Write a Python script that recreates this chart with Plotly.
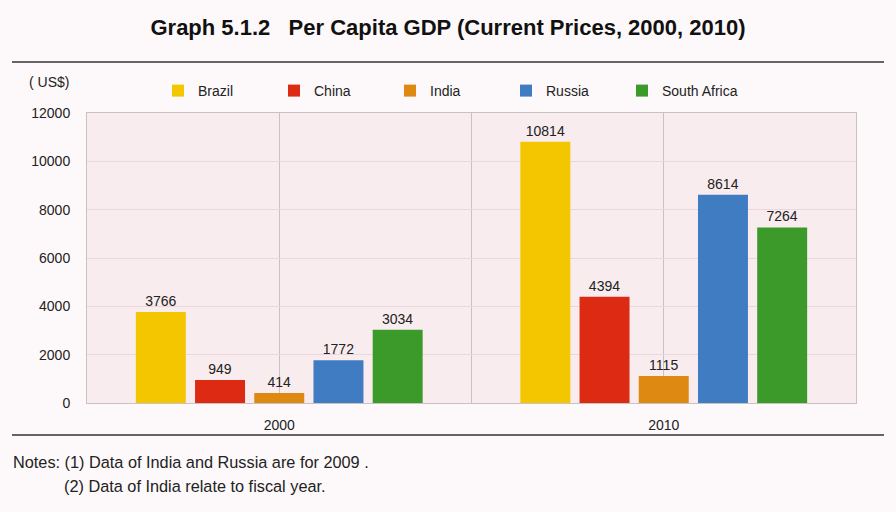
import plotly.graph_objects as go

# data
years = ['2000', '2010']
countries = ['Brazil', 'China', 'India', 'Russia', 'South Africa']
brazil = [3766, 10814]
china = [949, 4394]
india = [414, 1115]
russia = [1772, 8614]
south_africa = [3034, 7264]
values = [brazil, china, india, russia, south_africa]

colors = ['#f4c600', '#dd2a12', '#de8a12', '#3f7cc2', '#3c9a2a']
x_pos = [0, 1]

W, H = 896, 512
# plot area in pixels
L, T, R, B = 87, 113, 40, 109
PW, PH = W - L - R, H - T - B


def px_x(px):
    return (px - L) / PW


def px_y(py):
    return (H - B - py) / PH


fig = go.Figure()

for name, vals, col in zip(countries, values, colors):
    fig.add_trace(go.Bar(
        x=x_pos,
        y=vals,
        name=name,
        marker=dict(color=col, line=dict(width=0)),
        text=vals,
        texttemplate='%{y:d}',
        textposition='outside',
        textfont=dict(size=14, color='#222222', family='Liberation Sans, Arial'),
        cliponaxis=False,
    ))

fig.update_layout(
    width=W,
    height=H,
    barmode='group',
    bargap=0.23,
    bargroupgap=0.156,
    paper_bgcolor='#fdf9fa',
    plot_bgcolor='#f8ecef',
    margin=dict(l=L, r=R, t=T, b=B, autoexpand=False),
    font=dict(family='Liberation Sans, Arial', size=14, color='#222222'),
    title=dict(
        text='<b>Graph 5.1.2   Per Capita GDP (Current Prices, 2000, 2010)</b>',
        x=0.5, xanchor='center',
        y=1 - 27 / H, yanchor='middle',
        font=dict(size=22, color='#111111', family='Liberation Sans, Arial'),
    ),
    legend=dict(
        orientation='h',
        xref='container', yref='container',
        x=158 / W, xanchor='left',
        y=1 - 91 / H, yanchor='middle',
        entrywidth=71, entrywidthmode='pixels',
        itemwidth=30,
        bgcolor='rgba(0,0,0,0)',
        font=dict(size=14, color='#222222'),
        traceorder='normal',
    ),
    showlegend=True,
)

fig.update_xaxes(
    range=[-0.5, 1.5],
    tickvals=[-0.5, 0, 0.5, 1, 1.5],
    ticktext=['', '2000', '', '2010', ''],
    ticks='',
    showgrid=True,
    gridcolor='#c8c2c4',
    gridwidth=1,
    showline=True,
    linecolor='#c8c2c4',
    mirror=True,
    zeroline=False,
    ticklabelstandoff=9,
    tickfont=dict(size=14),
)

fig.update_yaxes(
    range=[0, 12000],
    dtick=2000,
    tickformat='d',
    showgrid=True,
    gridcolor='#ead6db',
    zeroline=False,
    showline=True,
    linecolor='#c8c2c4',
    mirror=True,
    ticks='',
    ticklabelstandoff=13,
    tickfont=dict(size=14),
)

# rules above and below the chart
for py in (62, 435):
    fig.add_shape(type='line', xref='paper', yref='paper',
                  x0=px_x(12), x1=px_x(884), y0=px_y(py), y1=px_y(py),
                  line=dict(color='#333333', width=1.5))

# unit label
fig.add_annotation(text='( US$)', xref='paper', yref='paper',
                   x=px_x(27), y=px_y(82), xanchor='left', yanchor='middle',
                   showarrow=False, font=dict(size=14, color='#222222'))

# notes
fig.add_annotation(text='Notes: (1) Data of India and Russia are for 2009 .',
                   xref='paper', yref='paper',
                   x=px_x(11), y=px_y(462), xanchor='left', yanchor='middle',
                   showarrow=False, font=dict(size=16.3, color='#222222'))
fig.add_annotation(text='(2) Data of India relate to fiscal year.',
                   xref='paper', yref='paper',
                   x=px_x(62), y=px_y(486), xanchor='left', yanchor='middle',
                   showarrow=False, font=dict(size=16.3, color='#222222'))

# drop the default page margin so the figure sits at the window origin
fig.write_html('out.html', config={'displayModeBar': False},
               post_script="document.body.style.margin='0px';")
